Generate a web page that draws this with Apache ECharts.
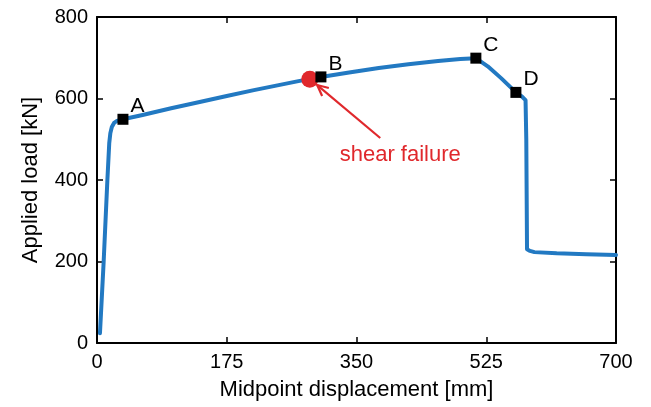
<!DOCTYPE html>
<html>
<head>
<meta charset="utf-8">
<script src="https://cdn.jsdelivr.net/npm/echarts@6/dist/echarts.min.js"></script>
<style>
  html, body { margin: 0; padding: 0; background: #ffffff; }
  #chart { width: 651px; height: 407px; }
</style>
</head>
<body>
<div id="chart"></div>
<script>
// Load–displacement response of the beam (midpoint displacement in mm, load in kN)
const dispMm = [4, 9, 14, 16.5, 18, 20, 23, 27, 35, 60, 100, 140, 175, 210, 240, 270, 302, 340, 380, 420, 460, 490, 511, 527, 545, 565, 573, 578, 579, 580, 584, 590, 620, 660, 700];
const loadKN = [24, 200, 400, 490, 515, 530, 540, 545, 549, 559, 576, 592, 606, 620, 631, 642, 653, 664, 675, 684, 692, 697, 699, 679, 650, 615, 605, 596, 500, 230, 226, 223, 220, 218, 216];

// Labelled stages along the curve
const stageNames = ['A', 'B', 'C', 'D'];
const stageDisp = [35, 302, 511, 565];
const stageLoad = [549, 653, 699, 615];

// Point where shear failure was observed
const failureDisp = [287];
const failureLoad = [647];

// Axis ticks
const xTicks = [0, 175, 350, 525, 700];
const yTicks = [0, 200, 400, 600, 800];

// Callout: text anchor and arrow (tail -> tip), in data units
const noteText = 'shear failure';
const noteAt = [409, 461];
const arrowTail = [382, 503];
const arrowTip = [297, 633];

const FONT = '"Liberation Sans", Arial, sans-serif';
const BLUE = '#2279c2';
const RED = '#e0282c';

const curve = dispMm.map((x, i) => [x, loadKN[i]]);
const stages = stageDisp.map((x, i) => ({ value: [x, stageLoad[i]], name: stageNames[i] }));
const failure = failureDisp.map((x, i) => [x, failureLoad[i]]);

const axisLine = { show: true, onZero: false, lineStyle: { color: '#000', width: 2 } };
const axisTick = { show: true, inside: true, length: 6, lineStyle: { color: '#000', width: 1.5 } };

function xAxisDef(position, showLabels) {
  return {
    type: 'value', position: position,
    min: xTicks[0], max: xTicks[xTicks.length - 1],
    interval: xTicks[1] - xTicks[0],
    axisLine: axisLine, axisTick: axisTick, splitLine: { show: false },
    axisLabel: { show: showLabels, color: '#000', fontFamily: FONT, fontSize: 20, margin: 9 },
    name: showLabels ? 'Midpoint displacement [mm]' : '',
    nameLocation: 'middle', nameGap: 36,
    nameTextStyle: { color: '#000', fontFamily: FONT, fontSize: 22 }
  };
}
function yAxisDef(position, showLabels) {
  return {
    type: 'value', position: position,
    min: yTicks[0], max: yTicks[yTicks.length - 1],
    interval: yTicks[1] - yTicks[0],
    axisLine: axisLine, axisTick: axisTick, splitLine: { show: false },
    axisLabel: { show: showLabels, color: '#000', fontFamily: FONT, fontSize: 20, margin: 9 },
    name: showLabels ? 'Applied load [kN]' : '',
    nameLocation: 'middle', nameGap: 55, nameRotate: 90,
    nameTextStyle: { color: '#000', fontFamily: FONT, fontSize: 22 }
  };
}

const chart = echarts.init(document.getElementById('chart'), null, { renderer: 'canvas' });
chart.setOption({
  animation: false,
  backgroundColor: '#ffffff',
  grid: { left: 97, right: 35, top: 17, bottom: 64 },
  xAxis: [xAxisDef('bottom', true), xAxisDef('top', false)],
  yAxis: [yAxisDef('left', true), yAxisDef('right', false)],
  series: [
    {
      type: 'line', data: curve, showSymbol: false, smooth: false,
      lineStyle: { color: BLUE, width: 4, join: 'round', cap: 'round' },
      z: 2
    },
    {
      type: 'scatter', data: failure, symbol: 'circle', symbolSize: 17,
      itemStyle: { color: RED, opacity: 1 }, z: 3
    },
    {
      type: 'scatter', data: stages, symbol: 'rect', symbolSize: 11,
      itemStyle: { color: '#000', opacity: 1 }, z: 4,
      label: {
        show: true, formatter: p => p.name, position: 'right', distance: 2,
        offset: [0, -13], color: '#000', fontFamily: FONT, fontSize: 21
      }
    },
    {
      type: 'custom', z: 5, silent: true,
      data: [[arrowTail[0], arrowTail[1], arrowTip[0], arrowTip[1], noteAt[0], noteAt[1]]],
      renderItem: function (params, api) {
        const tail = api.coord([api.value(0), api.value(1)]);
        const tip = api.coord([api.value(2), api.value(3)]);
        const txt = api.coord([api.value(4), api.value(5)]);
        const ang = Math.atan2(tail[1] - tip[1], tail[0] - tip[0]);
        const arm = 12, spread = Math.PI / 7;
        const a1 = [tip[0] + arm * Math.cos(ang + spread), tip[1] + arm * Math.sin(ang + spread)];
        const a2 = [tip[0] + arm * Math.cos(ang - spread), tip[1] + arm * Math.sin(ang - spread)];
        return {
          type: 'group',
          children: [
            { type: 'line', shape: { x1: tail[0], y1: tail[1], x2: tip[0], y2: tip[1] },
              style: { stroke: RED, lineWidth: 2.2 } },
            { type: 'polyline', shape: { points: [a1, tip, a2] },
              style: { stroke: RED, lineWidth: 2.2, fill: null } },
            { type: 'text', x: txt[0], y: txt[1],
              style: { text: noteText, fill: RED, font: '22px ' + FONT, align: 'center', verticalAlign: 'middle' } }
          ]
        };
      }
    }
  ]
});
</script>
</body>
</html>
